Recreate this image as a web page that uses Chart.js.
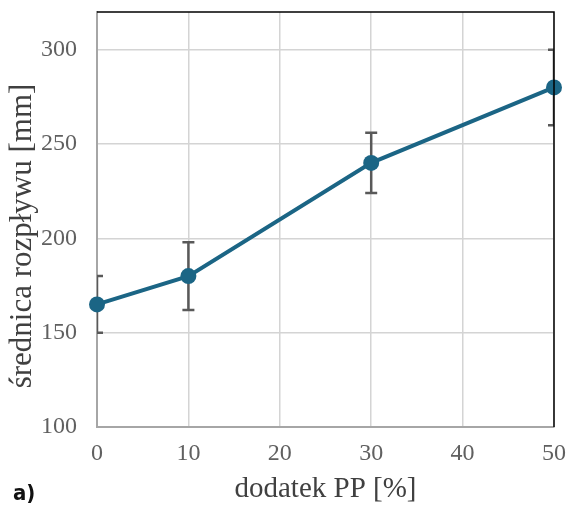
<!DOCTYPE html>
<html><head><meta charset="utf-8">
<script src="https://cdn.jsdelivr.net/npm/chart.js@4/dist/chart.umd.min.js"></script>
<style>html,body{margin:0;padding:0;background:#fff;}#wrap{width:568px;height:507px;}</style>
</head><body><div id="wrap"><canvas id="c" width="568" height="507"></canvas></div>
<script>
const xValues = [0, 10, 30, 50];
const yValues = [165, 180, 240, 280];
const errHigh = [180, 198, 256, 300];
const errLow = [150, 162, 224, 260];
const yTicks = [100, 150, 200, 250, 300];
const xTicks = [0, 10, 20, 30, 40, 50];
const xTitle = 'dodatek PP [%]';
const yTitle = 'średnica rozpływu [mm]';
const panelLabel = 'a)';

const errorBars = {
  id: 'errorBars',
  beforeDatasetsDraw(chart) {
    const {ctx, chartArea: a, scales: {x, y}} = chart;
    ctx.save();
    ctx.beginPath();
    ctx.rect(a.left, a.top - 1, a.right - a.left, a.bottom - a.top + 2);
    ctx.clip();
    ctx.strokeStyle = '#595959';
    ctx.lineWidth = 2.5;
    xValues.forEach((xv, i) => {
      const px = x.getPixelForValue(xv);
      const top = y.getPixelForValue(errHigh[i]);
      const bot = y.getPixelForValue(errLow[i]);
      ctx.beginPath();
      ctx.moveTo(px, top); ctx.lineTo(px, bot);
      ctx.moveTo(px - 6, top); ctx.lineTo(px + 6, top);
      ctx.moveTo(px - 6, bot); ctx.lineTo(px + 6, bot);
      ctx.stroke();
    });
    ctx.restore();
  },
  afterDraw(chart) {
    const {ctx, chartArea: a} = chart;
    ctx.save();
    ctx.strokeStyle = '#000';
    ctx.lineWidth = 1.5;
    ctx.beginPath();
    ctx.moveTo(a.left, a.top); ctx.lineTo(a.right, a.top); ctx.lineTo(a.right, a.bottom);
    ctx.stroke();
    ctx.fillStyle = '#111';
    ctx.font = 'bold 22px "DejaVu Sans Condensed", "Liberation Sans Narrow", sans-serif';
    ctx.textBaseline = 'middle';
    ctx.textAlign = 'left';
    ctx.fillText(panelLabel, 13, 494);
    ctx.translate(23, 236);
    ctx.rotate(-Math.PI / 2);
    ctx.fillStyle = '#404040';
    ctx.font = '31px "Liberation Serif", serif';
    ctx.textAlign = 'center';
    ctx.fillText(yTitle, 0, 0);
    ctx.restore();
  }
};

new Chart(document.getElementById('c'), {
  type: 'line',
  data: {
    datasets: [{
      data: xValues.map((v, i) => ({x: v, y: yValues[i]})),
      borderColor: '#1b6585',
      backgroundColor: '#1b6585',
      borderWidth: 4,
      pointRadius: 8,
      pointHoverRadius: 8,
      pointBorderWidth: 0,
      tension: 0,
      clip: false
    }]
  },
  options: {
    responsive: false,
    animation: false,
    events: [],
    layout: {padding: {top: 12, right: 14, left: 0, bottom: 0}},
    plugins: {legend: {display: false}, tooltip: {enabled: false}},
    scales: {
      x: {
        type: 'linear', min: 0, max: 50,
        afterBuildTicks(s) { s.ticks = xTicks.map(v => ({value: v})); },
        afterFit(s) { s.height = 80; s.paddingLeft = 0; s.paddingRight = 0; },
        grid: {color: '#d4d4d4', lineWidth: 1.5, drawTicks: false},
        border: {color: '#a6a6a6', width: 2},
        ticks: {color: '#606060', font: {family: '"Liberation Serif", serif', size: 24}, padding: 12},
        title: {display: true, text: xTitle, color: '#404040', font: {family: '"Liberation Serif", serif', size: 29}, padding: {top: 0, bottom: 0}}
      },
      y: {
        type: 'linear', min: 100, max: 320,
        afterBuildTicks(s) { s.ticks = yTicks.map(v => ({value: v})); },
        afterFit(s) { s.width = 97; s.paddingTop = 0; s.paddingBottom = 0; },
        grid: {color: '#d4d4d4', lineWidth: 1.5, drawTicks: false},
        border: {color: '#a6a6a6', width: 2},
        ticks: {color: '#606060', font: {family: '"Liberation Serif", serif', size: 24}, padding: 20},
        title: {display: false}
      }
    }
  },
  plugins: [errorBars]
});
</script></body></html>
